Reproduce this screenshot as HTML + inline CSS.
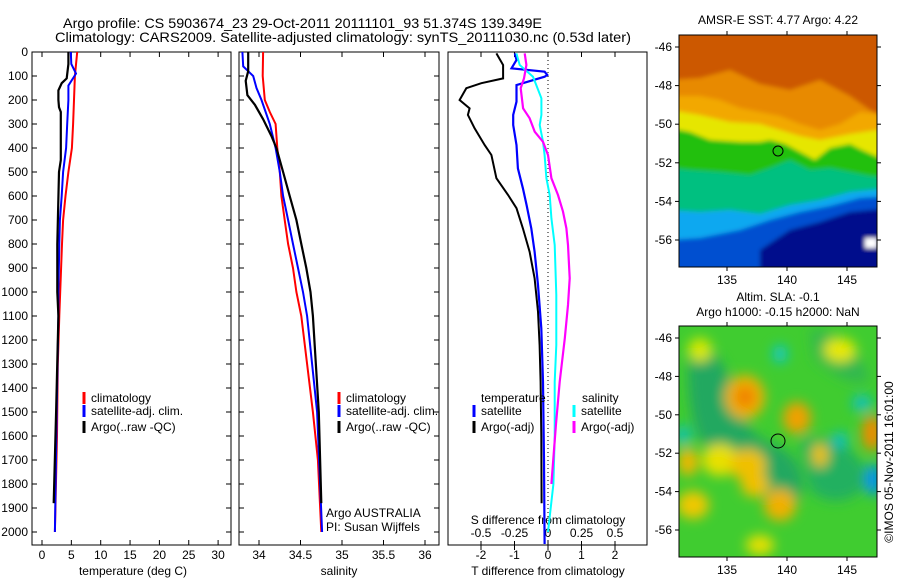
<!DOCTYPE html>
<html><head><meta charset="utf-8">
<style>
html,body{margin:0;padding:0;background:#fff;}
svg{display:block;font-family:"Liberation Sans",sans-serif;}
text{font-size:12px;fill:#000;}
</style></head>
<body>
<svg id="fig" width="900" height="580" viewBox="0 0 900 580" xmlns="http://www.w3.org/2000/svg">
<defs>
  <filter id="blur2" x="-10%" y="-10%" width="120%" height="120%"><feGaussianBlur stdDeviation="2"/></filter>
  <filter id="blur6" x="-50%" y="-50%" width="200%" height="200%"><feGaussianBlur stdDeviation="6"/></filter>
  <clipPath id="clipTop"><rect x="679" y="35" width="198" height="232"/></clipPath>
  <clipPath id="clipBot"><rect x="679" y="326" width="198" height="231"/></clipPath>
</defs>
<text x="63" y="28" text-anchor="start" textLength="479" lengthAdjust="spacingAndGlyphs" style="font-size:14px">Argo profile: CS 5903674_23 29-Oct-2011 20111101_93 51.374S 139.349E</text>
<text x="55" y="42" text-anchor="start" textLength="576" lengthAdjust="spacingAndGlyphs" style="font-size:14px">Climatology: CARS2009. Satellite-adjusted climatology: synTS_20111030.nc (0.53d later)</text>

<g id="p1"></g>
<g id="p2"></g>
<g id="p3"></g>

<!-- Top SST map -->
<g>
<text x="778" y="24" text-anchor="middle">AMSR-E SST: 4.77 Argo: 4.22</text>
<g clip-path="url(#clipTop)" filter="url(#blur2)">
  <rect x="670" y="25" width="220" height="250" fill="#cc5800"/>
  <path d="M670,80 L700,78 730,70 760,84 790,90 820,80 850,96 870,110 890,120 L890,280 L670,280Z" fill="#e88a00"/>
  <path d="M670,96 L700,96 720,100 740,108 760,112 780,116 800,124 820,130 840,124 860,112 890,115 L890,280 L670,280Z" fill="#f2a800"/>
  <path d="M670,110 L700,115 730,122 760,124 780,130 800,136 820,140 850,134 877,130 890,132 L890,280 L670,280Z" fill="#e6e600"/>
  <path d="M670,128 L690,132 710,140 740,142 760,142 770,140 785,144 800,152 815,160 830,148 850,144 862,150 880,158 890,160 L890,280 L670,280Z" fill="#20c010"/>
  <path d="M670,168 L690,170 720,172 750,175 770,168 790,160 810,170 830,168 850,172 870,176 890,178 L890,280 L670,280Z" fill="#00c080"/>
  <path d="M670,210 L700,212 730,210 760,214 790,205 820,200 850,192 890,188 L890,280 L670,280Z" fill="#10a8f0"/>
  <path d="M670,240 L700,238 740,230 770,220 800,212 830,206 860,198 890,196 L890,280 L670,280Z" fill="#0050d0"/>
  <path d="M760,250 L790,230 820,222 850,212 890,208 L890,280 L760,280Z" fill="#00108c"/>
  <rect x="865" y="238" width="12" height="10" fill="#fff"/>
</g>
<rect x="679" y="35" width="198" height="232" fill="none" stroke="#000" stroke-width="1"/>
<circle cx="778" cy="151" r="5" fill="none" stroke="#000" stroke-width="1"/>
<g id="mapTopAxes"></g>
</g>

<!-- Bottom SLA map -->
<g>
<text x="778" y="301" text-anchor="middle">Altim. SLA: -0.1</text>
<text x="778" y="316" text-anchor="middle">Argo h1000: -0.15 h2000: NaN</text>
<g clip-path="url(#clipBot)">
  <rect x="670" y="320" width="220" height="250" fill="#40cc30"/>
  <g filter="url(#blur6)">
    <path d="M690,345 C720,340 730,380 745,420 C760,450 790,440 800,470 C810,500 790,515 770,500 C740,480 720,460 700,440 C690,420 685,380 690,345Z" fill="#20a860"/>
    <path d="M800,440 C830,430 860,450 870,480 C860,500 830,510 810,490Z" fill="#24b060"/>
    <path d="M810,330 C840,330 860,350 870,380 C850,390 830,370 815,360Z" fill="#30b850"/>
    <ellipse cx="745" cy="397" rx="20" ry="22" fill="#f0b000"/>
    <ellipse cx="745" cy="397" rx="10" ry="11" fill="#f08000"/>
    <ellipse cx="797" cy="418" rx="14" ry="16" fill="#f0a000"/>
    <ellipse cx="872" cy="433" rx="10" ry="18" fill="#f08a00"/>
    <ellipse cx="720" cy="460" rx="18" ry="16" fill="#e8e000"/>
    <ellipse cx="748" cy="465" rx="18" ry="16" fill="#f0c000"/>
    <ellipse cx="755" cy="485" rx="14" ry="12" fill="#f0c000"/>
    <ellipse cx="688" cy="462" rx="10" ry="14" fill="#f0b800"/>
    <ellipse cx="780" cy="505" rx="16" ry="16" fill="#f0b000"/>
    <ellipse cx="693" cy="505" rx="16" ry="14" fill="#f0c800"/>
    <ellipse cx="760" cy="545" rx="14" ry="10" fill="#e8e000"/>
    <ellipse cx="840" cy="350" rx="16" ry="12" fill="#e8e800"/>
    <ellipse cx="700" cy="350" rx="12" ry="12" fill="#d8e800"/>
    <ellipse cx="820" cy="455" rx="8" ry="12" fill="#f0c000"/>
    <ellipse cx="780" cy="354" rx="7" ry="9" fill="#10c8d0"/>
    <ellipse cx="862" cy="403" rx="10" ry="8" fill="#10c0c0"/>
    <ellipse cx="683" cy="435" rx="8" ry="10" fill="#10c0b0"/>
    <ellipse cx="874" cy="480" rx="8" ry="16" fill="#0090f0"/>
    <ellipse cx="840" cy="440" rx="8" ry="8" fill="#10c0c0"/>
  </g>
</g>
<rect x="679" y="326" width="198" height="231" fill="none" stroke="#000" stroke-width="1"/>
<circle cx="778" cy="441" r="7" fill="none" stroke="#000" stroke-width="1"/>
<g id="mapBotAxes"></g>
<text transform="translate(893,462) rotate(-90)" text-anchor="middle">©IMOS 05-Nov-2011 16:01:00</text>
</g>
</svg>
<script>
// ---- data ----
const depthTicks = [0,100,200,300,400,500,600,700,800,900,1000,1100,1200,1300,1400,1500,1600,1700,1800,1900,2000];
const tempTicks = [0,5,10,15,20,25,30];
const salTicks = [34,34.5,35,35.5,36];
const salTickLabels = ["34","34.5","35","35.5","36"];
const tdiffTicks = [-2,-1,0,1,2];
const sdiffTicks = [-0.5,-0.25,0,0.25,0.5];
const sdiffTickLabels = ["-0.5","-0.25","0","0.25","0.5"];

const tClimD = [0,100,200,300,400,500,600,700,800,900,1000,1100,1300,1600,2000];
const tClimV = [6.0,5.6,5.45,5.3,5.1,4.5,4.0,3.6,3.4,3.25,3.1,2.95,2.7,2.55,2.2];
const tSatD = [0,50,90,140,200,300,400,500,600,700,800,1000,1100,1500,2000];
const tSatV = [4.9,5.0,5.8,4.5,4.5,4.3,4.1,3.6,3.35,3.05,2.95,2.8,2.8,2.5,2.2];
const tArgoD = [0,50,110,130,160,200,230,250,450,500,800,1000,1100,1500,1880];
const tArgoV = [4.5,4.5,4.2,3.35,2.8,2.8,2.9,3.2,3.2,2.9,2.6,2.6,2.8,2.4,2.0];

const sClimD = [0,100,200,250,300,400,500,600,700,800,900,1000,1100,1500,1700,2000];
const sClimV = [34.05,34.045,34.07,34.13,34.2,34.22,34.25,34.27,34.31,34.35,34.41,34.45,34.51,34.65,34.71,34.75];
const sSatD = [0,60,80,100,150,200,300,400,500,600,700,800,900,1000,1100,1500,2000];
const sSatV = [33.8,33.81,33.87,33.93,33.97,34.03,34.13,34.2,34.25,34.29,34.35,34.41,34.47,34.53,34.58,34.7,34.76];
const sArgoD = [0,80,120,180,220,280,350,400,500,600,700,800,900,1000,1100,1500,1880];
const sArgoV = [33.87,33.87,33.84,33.86,33.95,34.05,34.15,34.21,34.29,34.37,34.45,34.51,34.57,34.62,34.65,34.72,34.75];

const dTArgoD = [6,54,110,130,151,200,235,262,318,388,429,526,596,651,735,832,943,1082,1221,1374,1600,1880];
const dTArgoV = [-1.54,-1.34,-1.34,-1.99,-2.44,-2.64,-2.34,-2.39,-2.19,-1.89,-1.69,-1.54,-1.19,-0.94,-0.75,-0.55,-0.40,-0.30,-0.25,-0.22,-0.2,-0.19];
const dTSatD = [6,33,68,82,96,103,138,207,262,304,388,485,568,638,735,832,971,1151,1374,1700,2050];
const dTSatV = [-0.99,-0.94,-1.09,-0.10,-0.02,-0.10,-0.94,-0.94,-1.04,-1.04,-0.94,-0.90,-0.75,-0.64,-0.50,-0.40,-0.30,-0.20,-0.15,-0.12,-0.1];
const dSSatD = [6,54,103,138,193,262,304,374,429,526,596,693,804,1012,1221,1374,1600,1800,2000];
const dSSatV = [-0.236,-0.211,-0.112,-0.087,-0.049,-0.049,-0.062,-0.037,-0.025,-0.012,0.013,0.025,0.05,0.062,0.062,0.05,0.05,0.04,0.0];
const dSArgoD = [6,54,110,151,235,276,332,374,429,526,596,665,735,804,943,1054,1193,1374,1550,1800];
const dSArgoV = [-0.174,-0.161,-0.179,-0.204,-0.186,-0.137,-0.099,-0.037,0,0.025,0.075,0.112,0.137,0.149,0.162,0.149,0.125,0.087,0.06,0.025];

const lonTicks = [135,140,145];
const latTicks = [-46,-48,-50,-52,-54,-56];

// ---- axis functions ----
const TOP=52, BOT=545;
const yD = d => TOP + d*0.24;
const x1 = t => 42 + t*5.87;
const x2 = s => 259 + (s-34)*83;
const x3T = t => 548 + t*33.5;
const x3S = s => 548 + s*134;
const lonX = l => 679 + (l-131.0)*12;
const latYTop = la => 47 + (-46-la)*19.3;
const latYBot = la => 338 + (-46-la)*19.2;

const NS = "http://www.w3.org/2000/svg";
function mk(tag, attrs, parent){
  const e = document.createElementNS(NS, tag);
  for (const k in attrs) e.setAttribute(k, attrs[k]);
  parent.appendChild(e);
  return e;
}
function txt(parent, x, y, s, anchor){
  const t = mk('text', {x:x, y:y, 'text-anchor':anchor||'middle'}, parent);
  t.textContent = s;
  return t;
}
function frame(g, x0, x1_, name){
  const r = mk('rect', {x:x0, y:TOP, width:x1_-x0, height:BOT-TOP, fill:'none', stroke:'#000', 'stroke-width':1}, g);
  
  
}
function line(g, D, V, fx, color, w, name){
  const pts = D.map((d,i)=> fx(V[i]).toFixed(1)+','+yD(d).toFixed(1)).join(' ');
  const p = mk('polyline', {points:pts, fill:'none', stroke:color, 'stroke-width':w, 'stroke-linejoin':'miter'}, g);
  
  
}
function legend(g, x, y, color, label, name){
  const lg = mk('g', {}, g);
  
  
  mk('line', {x1:x, y1:y-10, x2:x, y2:y+2, stroke:color, 'stroke-width':3}, lg);
  txt(lg, x+7, y, label, 'start');
}

// Panel 1
const g1 = document.getElementById('p1');
frame(g1, 32, 231, 'temperature-frame');
depthTicks.forEach(d=>{
  const y = yD(d);
  mk('line',{x1:32,y1:y,x2:37,y2:y,stroke:'#000'},g1);
  mk('line',{x1:226,y1:y,x2:231,y2:y,stroke:'#000'},g1);
  const t = txt(g1, 28, y+4, String(d), 'end');
  
  
});
tempTicks.forEach(v=>{
  const x = x1(v);
  mk('line',{x1:x,y1:BOT,x2:x,y2:BOT-5,stroke:'#000'},g1);
  mk('line',{x1:x,y1:TOP,x2:x,y2:TOP+5,stroke:'#000'},g1);
  const t = txt(g1, x, 559, String(v));
  
  
});
txt(g1, 133, 575, 'temperature (deg C)');
line(g1, tClimD, tClimV, x1, '#ff0000', 2, 'temperature-climatology-line');
line(g1, tSatD, tSatV, x1, '#0000ff', 2, 'temperature-satellite-line');
line(g1, tArgoD, tArgoV, x1, '#000000', 2.2, 'temperature-argo-line');
legend(g1, 84, 402, '#ff0000', 'climatology', 'legend-climatology');
legend(g1, 84, 415, '#0000ff', 'satellite-adj. clim.', 'legend-satellite');
legend(g1, 84, 431, '#000000', 'Argo(..raw -QC)', 'legend-argo');

// Panel 2
const g2 = document.getElementById('p2');
frame(g2, 239, 439, 'salinity-frame');
depthTicks.forEach(d=>{
  const y = yD(d);
  mk('line',{x1:239,y1:y,x2:244,y2:y,stroke:'#000'},g2);
  mk('line',{x1:434,y1:y,x2:439,y2:y,stroke:'#000'},g2);
});
salTicks.forEach((v,i)=>{
  const x = x2(v);
  mk('line',{x1:x,y1:BOT,x2:x,y2:BOT-5,stroke:'#000'},g2);
  mk('line',{x1:x,y1:TOP,x2:x,y2:TOP+5,stroke:'#000'},g2);
  const t = txt(g2, x, 559, salTickLabels[i]);
  
  
});
txt(g2, 339, 575, 'salinity');
line(g2, sClimD, sClimV, x2, '#ff0000', 2, 'salinity-climatology-line');
line(g2, sSatD, sSatV, x2, '#0000ff', 2, 'salinity-satellite-line');
line(g2, sArgoD, sArgoV, x2, '#000000', 2.2, 'salinity-argo-line');
legend(g2, 339, 402, '#ff0000', 'climatology', 'legend-climatology-salinity');
legend(g2, 339, 415, '#0000ff', 'satellite-adj. clim.', 'legend-satellite-salinity');
legend(g2, 339, 431, '#000000', 'Argo(..raw -QC)', 'legend-argo-salinity');
txt(g2, 326, 517, 'Argo AUSTRALIA', 'start');
txt(g2, 326, 531, 'PI: Susan Wijffels', 'start');

// Panel 3
const g3 = document.getElementById('p3');
frame(g3, 448, 647, 'difference-frame');
const zl = mk('line',{x1:x3T(0),y1:TOP,x2:x3T(0),y2:BOT,stroke:'#000','stroke-dasharray':'1,3'},g3);


tdiffTicks.forEach(v=>{
  const x = x3T(v);
  mk('line',{x1:x,y1:BOT,x2:x,y2:BOT+5,stroke:'#000'},g3);
  mk('line',{x1:x,y1:TOP,x2:x,y2:TOP+5,stroke:'#000'},g3);
  const t = txt(g3, x, 559, String(v));
  
  
});
sdiffTicks.forEach((v,i)=>{
  const x = x3S(v);
  mk('line',{x1:x,y1:BOT,x2:x,y2:BOT-4,stroke:'#000'},g3);
  const t = txt(g3, x, 537, sdiffTickLabels[i]);
  
  
});
txt(g3, 548, 524, 'S difference from climatology');
txt(g3, 548, 575, 'T difference from climatology');
line(g3, dTArgoD, dTArgoV, x3T, '#000000', 2, 'tdiff-argo-line');
line(g3, dTSatD, dTSatV, x3T, '#0000ff', 2.2, 'tdiff-satellite-line');
line(g3, dSSatD, dSSatV, x3S, '#00ffff', 2, 'sdiff-satellite-line');
line(g3, dSArgoD, dSArgoV, x3S, '#ff00ff', 2.2, 'sdiff-argo-line');
txt(g3, 481, 402, 'temperature', 'start');
legend(g3, 474, 415, '#0000ff', 'satellite', 'legend-tdiff-satellite');
legend(g3, 474, 431, '#000000', 'Argo(-adj)', 'legend-tdiff-argo');
txt(g3, 582, 402, 'salinity', 'start');
legend(g3, 574, 415, '#00ffff', 'satellite', 'legend-sdiff-satellite');
legend(g3, 574, 431, '#ff00ff', 'Argo(-adj)', 'legend-sdiff-argo');

// Map axes
function mapAxes(gid, y0, y1, latY){
  const g = document.getElementById(gid);
  lonTicks.forEach(l=>{
    const x = lonX(l);
    mk('line',{x1:x,y1:y1,x2:x,y2:y1+4,stroke:'#000'},g);
    mk('line',{x1:x,y1:y0,x2:x,y2:y0-4,stroke:'#000'},g);
    const t = txt(g, x, y1+17, String(l));
    
    
  });
  latTicks.forEach(la=>{
    const y = latY(la);
    mk('line',{x1:679,y1:y,x2:675,y2:y,stroke:'#000'},g);
    mk('line',{x1:877,y1:y,x2:881,y2:y,stroke:'#000'},g);
    const t = txt(g, 672, y+4, String(la), 'end');
    
    
  });
}
mapAxes('mapTopAxes', 35, 267, latYTop);
mapAxes('mapBotAxes', 326, 557, latYBot);
</script>
</body></html>
